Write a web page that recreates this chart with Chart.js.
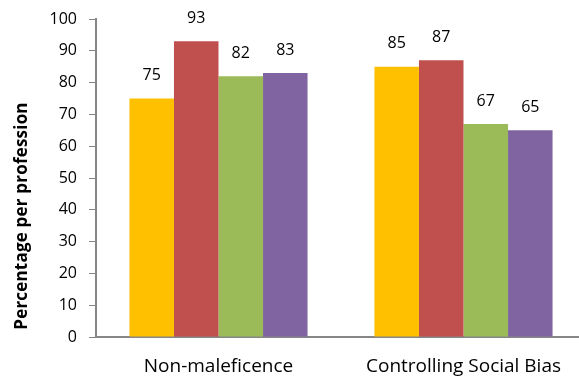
<!DOCTYPE html>
<html>
<head>
<meta charset="utf-8">
<script src="https://cdn.jsdelivr.net/npm/chart.js@4"></script>
<style>
  html, body { margin: 0; padding: 0; background: #fff; overflow: hidden; }
  #wrap { width: 579px; height: 379px; overflow: hidden; }
  #box { width: 586px; height: 379px; position: relative; }
</style>
</head>
<body>
<div id="wrap"><div id="box"><canvas id="chart"></canvas></div></div>
<script>
const categories = ['Non-maleficence', 'Controlling Social Bias'];
const seriesA = [75, 85];
const seriesB = [93, 87];
const seriesC = [82, 67];
const seriesD = [83, 65];
const yTicks = [0, 10, 20, 30, 40, 50, 60, 70, 80, 90, 100];
const yTitle = 'Percentage per profession';

const axisGray = '#868686';
const font = "'Open Sans', 'Noto Sans', sans-serif";

// value labels above each bar
const valueLabels = {
  id: 'valueLabels',
  afterDatasetsDraw(chart) {
    const ctx = chart.ctx;
    ctx.save();
    ctx.font = '16px ' + font;
    ctx.fillStyle = '#000';
    ctx.textAlign = 'center';
    ctx.textBaseline = 'middle';
    chart.data.datasets.forEach((ds, i) => {
      chart.getDatasetMeta(i).data.forEach((bar, j) => {
        ctx.fillText(ds.data[j], bar.x, bar.y - 23);
      });
    });
    ctx.restore();
  }
};

// rotated y-axis title, set a bit low
const sideTitle = {
  id: 'sideTitle',
  afterDraw(chart) {
    const ctx = chart.ctx;
    const area = chart.chartArea;
    ctx.save();
    ctx.translate(22, (area.top + area.bottom) / 2 + 38);
    ctx.rotate(-Math.PI / 2);
    ctx.font = 'bold 17px ' + font;
    ctx.letterSpacing = '0.2px';
    ctx.fillStyle = '#000';
    ctx.textAlign = 'center';
    ctx.textBaseline = 'middle';
    ctx.fillText(yTitle, 0, 0);
    ctx.restore();
  }
};

new Chart(document.getElementById('chart'), {
  type: 'bar',
  data: {
    labels: categories,
    datasets: [
      { data: seriesA, backgroundColor: '#FFC000' },
      { data: seriesB, backgroundColor: '#C0504D' },
      { data: seriesC, backgroundColor: '#9BBB59' },
      { data: seriesD, backgroundColor: '#8064A2' }
    ]
  },
  options: {
    responsive: true,
    maintainAspectRatio: false,
    animation: false,
    categoryPercentage: 0.727,
    barPercentage: 1,
    layout: { padding: { top: 19, left: 12, right: 0, bottom: 2 } },
    plugins: { legend: { display: false }, tooltip: { enabled: false } },
    scales: {
      x: {
        grid: { display: true, drawOnChartArea: false, drawTicks: false },
        border: { color: axisGray, width: 2 },
        ticks: { color: '#000', font: { family: font, size: 19 }, padding: 18, maxRotation: 0 },
        afterFit: axis => { axis.height = 40; }
      },
      y: {
        min: 0,
        max: 100,
        afterBuildTicks: axis => { axis.ticks = yTicks.map(v => ({ value: v })); },
        afterFit: axis => {
          axis.width = 84;
          axis.paddingTop = 0;
          axis.paddingBottom = 0;
        },
        grid: { display: true, drawOnChartArea: false, color: axisGray, tickLength: 7, lineWidth: 1 },
        border: { color: axisGray, width: 2 },
        ticks: { color: '#000', font: { family: font, size: 16 }, padding: 12 }
      }
    }
  },
  plugins: [valueLabels, sideTitle]
});
</script>
</body>
</html>
